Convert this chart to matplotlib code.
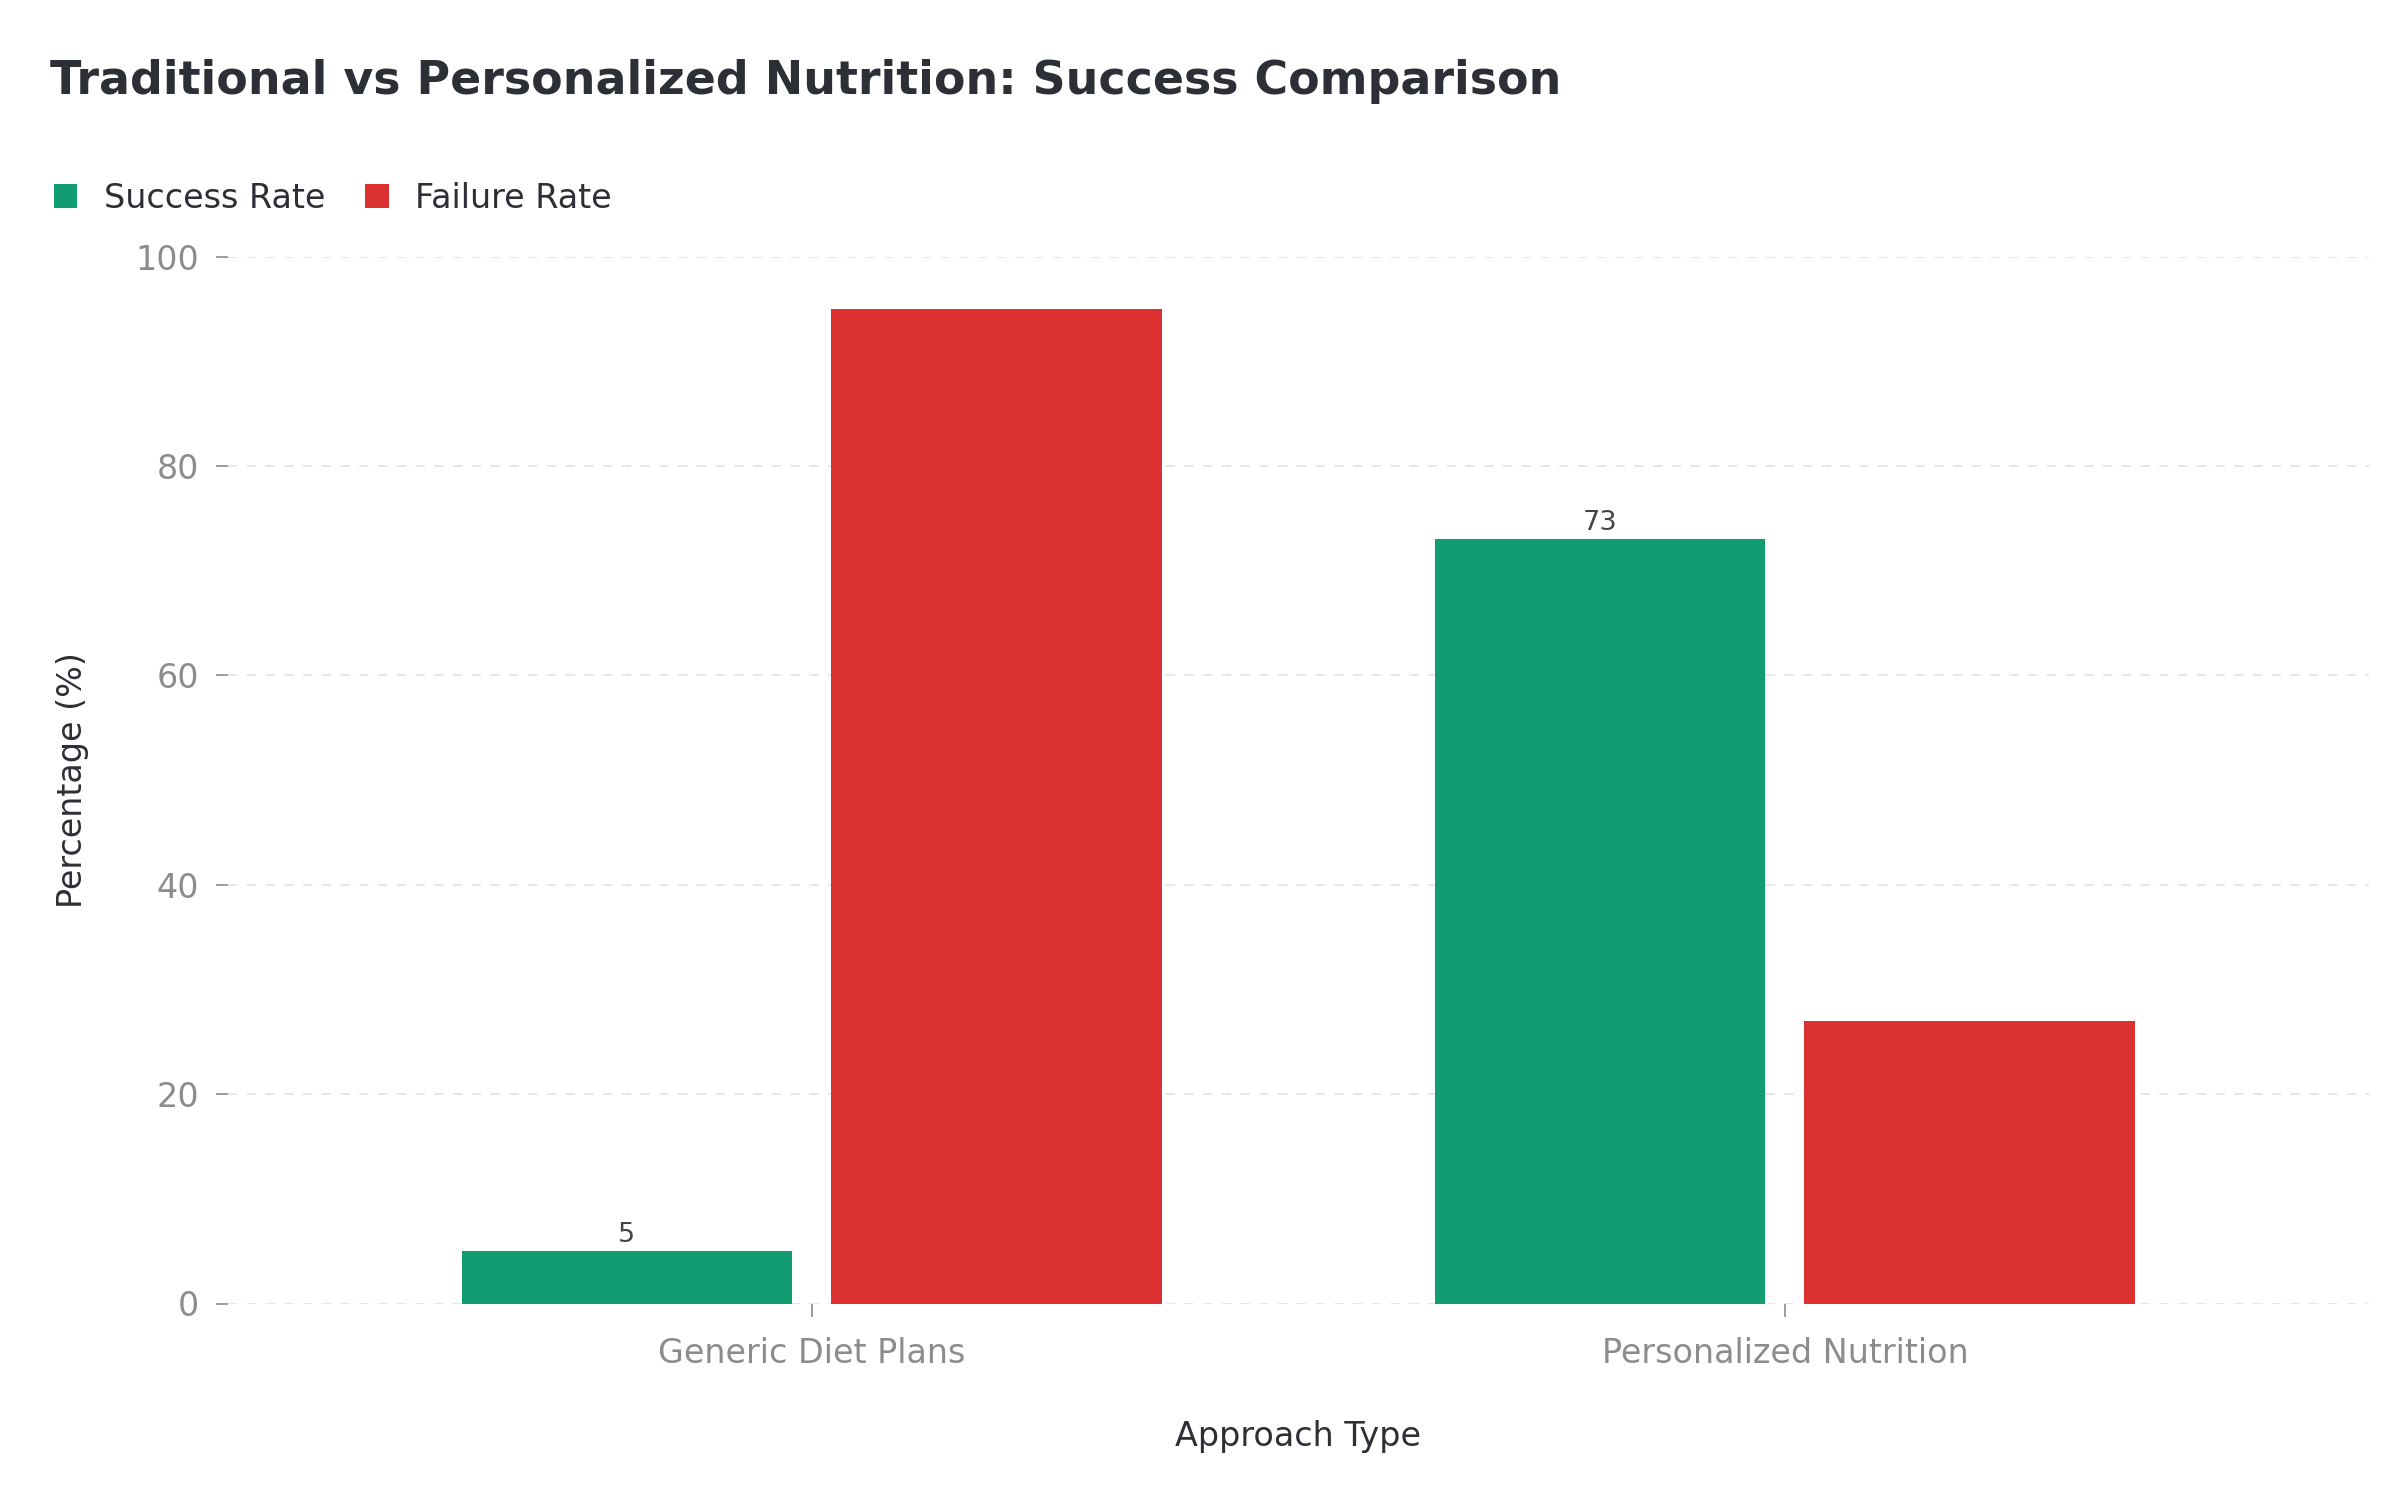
import matplotlib
matplotlib.use("Agg")
import matplotlib.pyplot as plt
import numpy as np

categories = ["Generic Diet Plans", "Personalized Nutrition"]
success_rate = [5, 73]
failure_rate = [95, 27]

GREEN = "#129c72"
RED = "#dc3131"
DARK = "#2d2f36"
GREY = "#8c8c8c"

fig = plt.figure(figsize=(16, 10), dpi=150)
ax = fig.add_axes([0.095, 0.131, 0.892, 0.698])

x = np.arange(len(categories))
w = 0.34
b1 = ax.bar(x - 0.19, success_rate, w, color=GREEN, label="Success Rate")
b2 = ax.bar(x + 0.19, failure_rate, w, color=RED, label="Failure Rate")
for rect, v in zip(b1, success_rate):
    ax.text(rect.get_x() + rect.get_width() / 2, v + 0.3, f"{v}",
            ha="center", va="bottom", fontsize=13, color="#444444")

ax.set_xlim(-0.6, 1.6)
ax.set_ylim(0, 100)
ax.set_xticks(x)
ax.set_xticklabels(categories, fontsize=16, color=GREY)
ax.set_yticks(range(0, 101, 20))
ax.tick_params(axis="y", labelsize=16, labelcolor=GREY, color=GREY, length=6, pad=8)
ax.tick_params(axis="x", color=GREY, length=6, pad=10)
ax.grid(axis="y", linestyle=(0, (5, 5)), color="#e6e6e6", linewidth=0.9)
ax.set_axisbelow(True)
for s in ax.spines.values():
    s.set_visible(False)

ax.set_xlabel("Approach Type", fontsize=16, color=DARK, labelpad=24)
ax.set_ylabel("Percentage (%)", fontsize=16, color=DARK, labelpad=22)

fig.text(0.021, 0.946, "Traditional vs Personalized Nutrition: Success Comparison",
         fontsize=22, fontweight="bold", color=DARK, va="center")
fig.legend(handles=[b1, b2], loc="center left", bbox_to_anchor=(0.01, 0.868),
           ncol=2, frameon=False, fontsize=16, handlelength=0.7, handleheight=0.7,
           columnspacing=1.2, handletextpad=0.8, labelcolor=DARK)

fig.savefig("out.png", dpi=150, facecolor="white")
